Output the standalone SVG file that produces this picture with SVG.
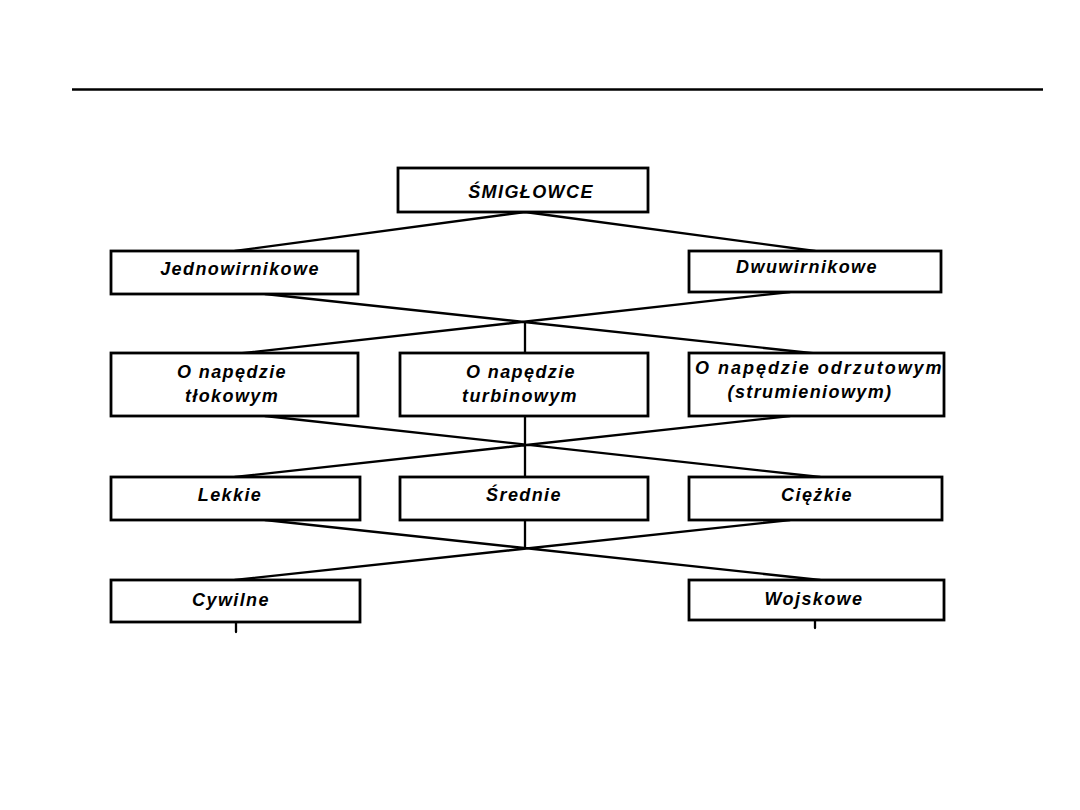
<svg xmlns="http://www.w3.org/2000/svg" width="1080" height="810" viewBox="0 0 1080 810">
<style>
.box{fill:#fff;stroke:#000;stroke-width:2.8}
.ln{stroke:#000;stroke-width:2.3;fill:none;stroke-linecap:round}
text{font-family:"Liberation Sans",Arial,sans-serif;font-style:italic;font-weight:bold;font-size:18px;letter-spacing:1.4px;fill:#000;text-anchor:middle}
</style>
<rect width="1080" height="810" fill="#fff"/>
<line x1="72" y1="89.5" x2="1043" y2="89.5" stroke="#000" stroke-width="2.6"/>
<g id="connectors">
<path class="ln" d="M525 212 L235 251 M525 212 L815 251"/>
<path class="ln" d="M265 294 L820 354 M790 292 L235 354 M525 323 L525 353"/>
<path class="ln" d="M265 416 L820 477 M790 416 L235 477 M525 416 L525 477"/>
<path class="ln" d="M265 520 L820 580 M790 520 L235 580 M525 520 L525 548"/>
<path class="ln" d="M236 622 L236 632 M815 620 L815 628" stroke-width="1.5"/>
</g>
<g id="n-smiglowce"><rect class="box" x="398" y="168" width="250" height="44"/><text x="531" y="198">ŚMIGŁOWCE</text></g>
<g id="n-jedno"><rect class="box" x="111" y="251" width="247" height="43"/><text x="240" y="275">Jednowirnikowe</text></g>
<g id="n-dwu"><rect class="box" x="689" y="251" width="252" height="41"/><text x="807" y="273">Dwuwirnikowe</text></g>
<g id="n-tlokowy"><rect class="box" x="111" y="353" width="247" height="63"/><text x="232" y="378">O napędzie</text><text x="232" y="402">tłokowym</text></g>
<g id="n-turbinowy"><rect class="box" x="400" y="353" width="248" height="63"/><text x="521" y="378">O napędzie</text><text x="520" y="402">turbinowym</text></g>
<g id="n-odrzutowy"><rect class="box" x="689" y="353" width="255" height="63"/><text x="819" y="374" textLength="248" lengthAdjust="spacing">O napędzie odrzutowym</text><text x="810" y="398">(strumieniowym)</text></g>
<g id="n-lekkie"><rect class="box" x="111" y="477" width="249" height="43"/><text x="230" y="501">Lekkie</text></g>
<g id="n-srednie"><rect class="box" x="400" y="477" width="248" height="43"/><text x="524" y="501">Średnie</text></g>
<g id="n-ciezkie"><rect class="box" x="689" y="477" width="253" height="43"/><text x="817" y="501">Ciężkie</text></g>
<g id="n-cywilne"><rect class="box" x="111" y="580" width="249" height="42"/><text x="231" y="606">Cywilne</text></g>
<g id="n-wojskowe"><rect class="box" x="689" y="580" width="255" height="40"/><text x="814" y="605">Wojskowe</text></g>
</svg>
